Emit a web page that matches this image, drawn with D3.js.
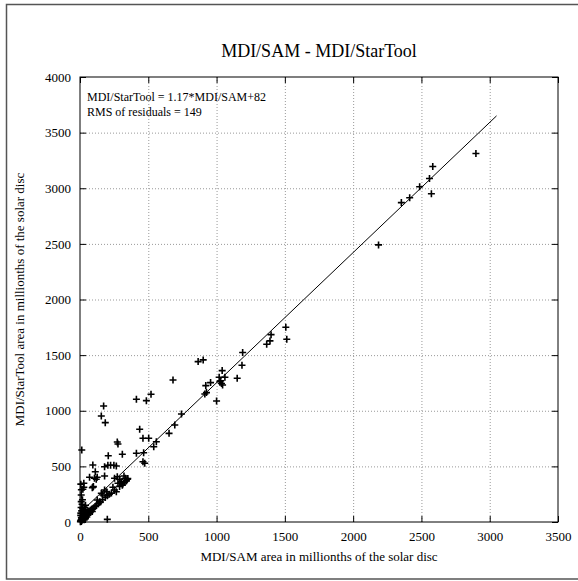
<html>
    <head>
        <script src="https://d3js.org/d3.v7.min.js"></script>
        <style type="text/css">
            body {
                background: #fff;
                margin: 0;
            }
            svg text {
                font-family: "Liberation Serif", "DejaVu Serif", serif;
                fill: #000;
            }
            .grid line {
                stroke: #999;
                stroke-dasharray: 1,2;
            }
            .grid path {
                display: none;
            }
        </style>
    </head>
    <body>
        <svg id="chart" width="578" height="581" xmlns="http://www.w3.org/2000/svg"></svg>

        <script type="text/javascript">
        // MDI/SAM area (x) and MDI/StarTool area (y), millionths of the solar disc
        const samArea = [
            2899, 2583, 2573, 2559, 2487, 2414, 2353, 2186,
            1507, 1514, 1399, 1391, 1367, 1191, 1186, 902, 865,
            1041, 1019, 1061, 1024, 1036, 1044, 1030, 1151, 956, 921, 926, 914, 1000, 681, 520, 486, 413,
            743, 694, 652, 437, 173, 156, 185,
            461, 503, 559, 540, 273, 278, 13,
            207, 310, 413, 466, 461, 474, 94, 180, 204, 224, 248, 266, 112,
            70, 106, 119, 126, 180, 253, 273, 290, 322, 332, 347, 28, 94, 98, 90, 21, 28,
            278, 302, 314, 241, 253, 266, 180, 195, 156, 167, 9, 126, 143, 9, 200,
            33, 45, 55, 65, 75, 85, 100, 110, 120, 135, 150, 165, 185, 200, 215, 230, 290, 310, 325, 340, 350, 300,
            3, 5, 8, 10, 12, 15, 18, 20, 22, 25, 28, 30, 32, 35, 38, 40, 42, 45, 48, 50, 55, 58, 60, 65, 70, 75, 80, 85, 90, 95,
            6, 8, 10, 12, 15, 20, 5, 25, 30, 35, 40, 18, 10, 6
        ];
        const starToolArea = [
            3312, 3195, 2950, 3087, 3013, 2914, 2871, 2491,
            1751, 1643, 1684, 1628, 1598, 1523, 1409, 1457, 1442,
            1361, 1301, 1301, 1262, 1245, 1232, 1270, 1292, 1253, 1226, 1163, 1151, 1088, 1277, 1148, 1091, 1103,
            971, 872, 797, 834, 1043, 953, 893,
            753, 753, 722, 677, 719, 701, 647,
            596, 609, 618, 623, 542, 528, 513, 497, 510, 510, 510, 504, 452,
            402, 393, 384, 402, 414, 393, 407, 384, 414, 393, 384, 348, 312, 318, 308, 294, 312,
            348, 362, 342, 312, 288, 272, 288, 272, 258, 243, 243, 198, 183, 183, 24,
            63, 75, 85, 95, 105, 115, 125, 140, 150, 165, 180, 200, 220, 235, 250, 260, 320, 330, 355, 370, 390, 350,
            3, 10, 20, 5, 30, 15, 40, 25, 50, 35, 60, 20, 45, 70, 55, 30, 80, 55, 90, 45, 70, 100, 65, 80, 95, 85, 100, 110, 95, 120,
            80, 130, 40, 100, 160, 120, 60, 90, 110, 130, 150, 200, 290, 340
        ];

        const xTicks = [0, 500, 1000, 1500, 2000, 2500, 3000, 3500];
        const yTicks = [0, 500, 1000, 1500, 2000, 2500, 3000, 3500, 4000];

        // linear fit: StarTool = 1.17*SAM + 82
        const fitSlope = 1.17;
        const fitIntercept = 82;
        const fitRange = [0, 3050];

        const titleText = "MDI/SAM - MDI/StarTool";
        const xLabel = "MDI/SAM area in millionths of the solar disc";
        const yLabel = "MDI/StarTool area in millionths of the solar disc";
        const notes = ["MDI/StarTool = 1.17*MDI/SAM+82", "RMS of residuals = 149"];

        const pLeft = 80, pRight = 558, pTop = 77, pBottom = 522;

        const svg = d3.select("#chart");

        // outer frame
        svg.append("rect")
            .attr("x", 6.5).attr("y", 4.5)
            .attr("width", 600).attr("height", 574.5)
            .attr("fill", "none")
            .attr("stroke", "#555")
            .attr("stroke-width", 1.5);

        const x = d3.scaleLinear().domain([0, 3500]).range([pLeft, pRight]);
        const y = d3.scaleLinear().domain([0, 4000]).range([pBottom, pTop]);

        // grid
        svg.append("g").attr("class", "grid")
            .attr("transform", `translate(0,${pBottom})`)
            .call(d3.axisBottom(x).tickValues(xTicks.slice(1, -1)).tickSize(-(pBottom - pTop)).tickFormat(""));
        svg.append("g").attr("class", "grid")
            .attr("transform", `translate(${pLeft},0)`)
            .call(d3.axisLeft(y).tickValues(yTicks.slice(1, -1)).tickSize(-(pRight - pLeft)).tickFormat(""));

        // axes, ticks pointing inward
        const styleAxis = g => {
            g.select(".domain").remove();
            g.selectAll("line").attr("stroke", "#000");
            g.selectAll("text").style("font-family", "'Liberation Serif', serif").style("font-size", "13px");
        };
        svg.append("g")
            .attr("transform", `translate(0,${pBottom})`)
            .call(d3.axisBottom(x).tickValues(xTicks).tickSize(-6).tickPadding(10).tickFormat(d3.format("d")))
            .call(styleAxis);
        svg.append("g")
            .attr("transform", `translate(0,${pTop})`)
            .call(d3.axisTop(x).tickValues(xTicks).tickSize(-6).tickFormat(""))
            .call(styleAxis);
        svg.append("g")
            .attr("transform", `translate(${pLeft},0)`)
            .call(d3.axisLeft(y).tickValues(yTicks).tickSize(-6).tickPadding(9).tickFormat(d3.format("d")))
            .call(styleAxis);
        svg.append("g")
            .attr("transform", `translate(${pRight},0)`)
            .call(d3.axisRight(y).tickValues(yTicks).tickSize(-6).tickFormat(""))
            .call(styleAxis);

        svg.append("rect")
            .attr("x", pLeft).attr("y", pTop)
            .attr("width", pRight - pLeft).attr("height", pBottom - pTop)
            .attr("fill", "none")
            .attr("stroke", "#000");

        // fit line
        svg.append("line")
            .attr("x1", x(fitRange[0])).attr("y1", y(fitSlope * fitRange[0] + fitIntercept))
            .attr("x2", x(fitRange[1])).attr("y2", y(fitSlope * fitRange[1] + fitIntercept))
            .attr("stroke", "#000")
            .attr("stroke-width", 1);

        // points as plus marks
        const pts = samArea.map((d, i) => ({ sam: d, star: starToolArea[i] }));
        svg.append("g")
            .selectAll("path")
            .data(pts)
            .join("path")
            .attr("transform", d => `translate(${x(d.sam)},${y(d.star)})`)
            .attr("d", "M-3.5,0H3.5M0,-3.5V3.5")
            .attr("stroke", "#000")
            .attr("stroke-width", 1.6)
            .attr("fill", "none");

        // texts
        svg.append("text")
            .attr("x", (pLeft + pRight) / 2).attr("y", 57)
            .attr("text-anchor", "middle")
            .style("font-size", "18px")
            .text(titleText);

        svg.append("text")
            .attr("x", (pLeft + pRight) / 2).attr("y", 561)
            .attr("text-anchor", "middle")
            .style("font-size", "13px")
            .text(xLabel);

        svg.append("text")
            .attr("transform", `translate(24,${(pTop + pBottom) / 2}) rotate(-90)`)
            .attr("text-anchor", "middle")
            .style("font-size", "13px")
            .text(yLabel);

        svg.selectAll(".note")
            .data(notes)
            .join("text")
            .attr("class", "note")
            .attr("x", 87)
            .attr("y", (d, i) => 100.5 + i * 15)
            .style("font-size", "12px")
            .text(d => d);
        </script>
    </body>
</html>
